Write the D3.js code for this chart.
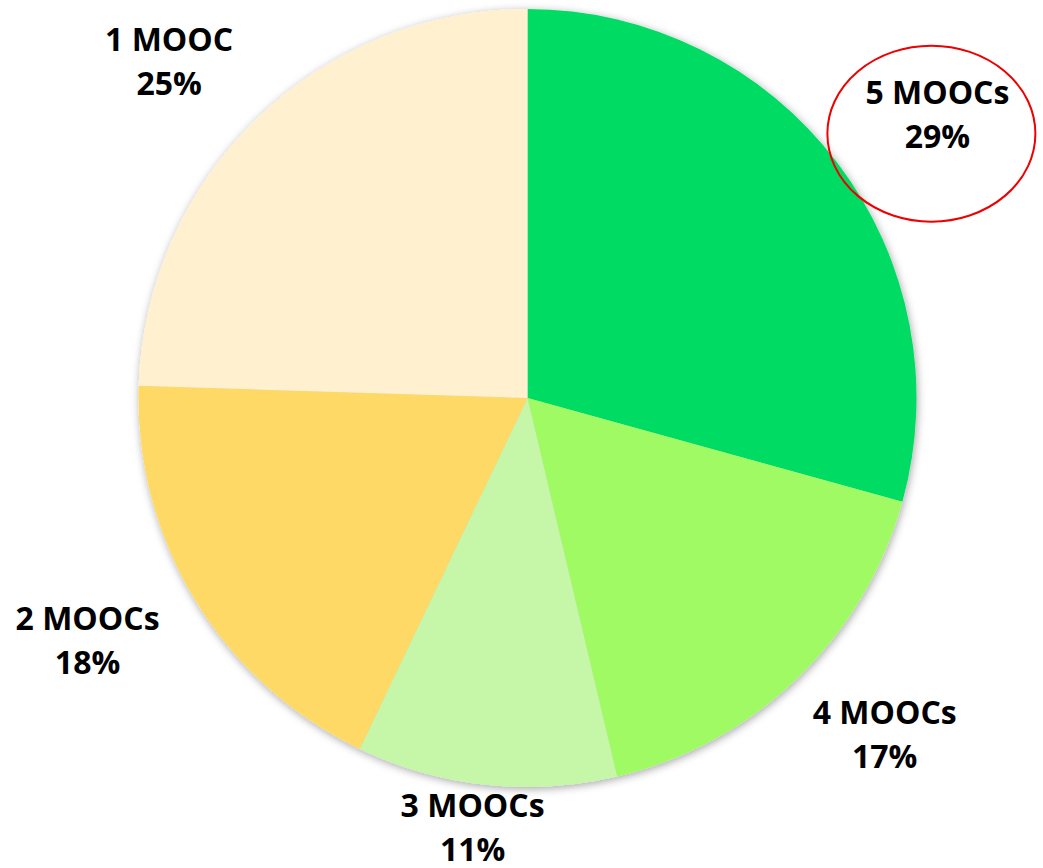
<!DOCTYPE html>
<html>
<head>
<meta charset="utf-8">
<script src="https://cdn.jsdelivr.net/npm/d3@7"></script>
<style>
  html, body { margin: 0; padding: 0; background: #fff; }
  svg { display: block; }
</style>
</head>
<body>
<div id="container"></div>
<script>
// slices clockwise from 12 o'clock
const categories = ['5 MOOCs', '4 MOOCs', '3 MOOCs', '2 MOOCs', '1 MOOC']
const shares = [29.3, 17.0, 10.8, 18.4, 24.5]
const pctLabels = ['29%', '17%', '11%', '18%', '25%']
const colors = ['#00dc64', '#a0fa64', '#c6f6a8', '#ffd966', '#fff1cf']
const highlighted = '5 MOOCs'

const width = 1043
const height = 868
const cx = 527.5
const cy = 398
const radius = 389
// labels sit on an ellipse outside the pie (text boxes are wider than tall)
const labelRx = 515
const labelRy = 468
const lineGap = 44

const data = categories.map((c, i) => ({ label: c, value: shares[i], pct: pctLabels[i], color: colors[i] }))

const svg = d3.create('svg')
    .attr('width', width)
    .attr('height', height)

// soft shadow under the pie, like the office chart
const defs = svg.append('defs')
const shadow = defs.append('filter')
    .attr('id', 'shadow')
    .attr('x', '-10%').attr('y', '-10%')
    .attr('width', '120%').attr('height', '120%')
shadow.append('feDropShadow')
    .attr('dx', 1).attr('dy', 2)
    .attr('stdDeviation', 4)
    .attr('flood-color', '#000')
    .attr('flood-opacity', 0.35)

const pie = d3.pie().sort(null).value(d => d.value)
const arc = d3.arc().innerRadius(0).outerRadius(radius)
const arcs = pie(data)

const g = svg.append('g')
    .attr('transform', `translate(${cx},${cy})`)

g.append('g')
    .attr('filter', 'url(#shadow)')
  .selectAll('path')
  .data(arcs)
  .enter()
  .append('path')
    .attr('d', arc)
    .attr('fill', d => d.data.color)

// label positions, kept inside the picture
function labelPos(d) {
  const mid = (d.startAngle + d.endAngle) / 2
  const x = Math.sin(mid) * labelRx
  let y = -Math.cos(mid) * labelRy
  const maxY = height - cy - 40
  if (y > maxY) y = maxY
  return [x, y]
}

const labels = g.append('g')
  .selectAll('text')
  .data(arcs)
  .enter()
  .append('text')
    .attr('transform', d => `translate(${labelPos(d)})`)
    .attr('text-anchor', 'middle')
    .style('font-family', '"Open Sans", sans-serif')
    .style('font-weight', 700)
    .style('font-size', '32px')
    .attr('fill', '#000')

labels.append('tspan')
    .attr('x', 0)
    .attr('y', -lineGap / 2 + 11)
    .text(d => d.data.label)
labels.append('tspan')
    .attr('x', 0)
    .attr('y', lineGap / 2 + 11)
    .text(d => d.data.pct)

// red ring around the highlighted label
const hl = arcs.find(d => d.data.label === highlighted)
const [hx, hy] = labelPos(hl)
g.append('ellipse')
    .attr('cx', hx - 6)
    .attr('cy', hy + 19)
    .attr('rx', 104)
    .attr('ry', 88)
    .attr('fill', 'none')
    .attr('stroke', '#ee0000')
    .attr('stroke-width', 2)

d3.select('#container').append(() => svg.node())
</script>
</body>
</html>
